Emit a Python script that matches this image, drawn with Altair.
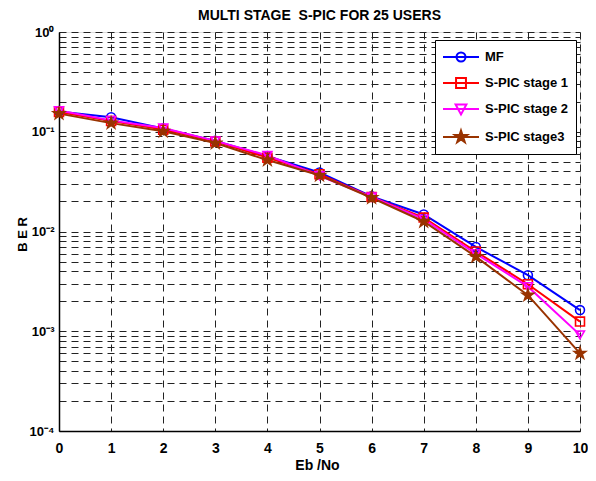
import math
import altair as alt
import pandas as pd

# ---------------- data ----------------
ebno = [0, 1, 2, 3, 4, 5, 6, 7, 8, 9, 10]
series_names = ["MF", "S-PIC stage 1", "S-PIC stage 2", "S-PIC stage3"]
ber_mf = [0.160, 0.140, 0.108, 0.081, 0.057, 0.039, 0.0225, 0.0148, 0.0070, 0.00365, 0.00163]
ber_s1 = [0.158, 0.128, 0.105, 0.080, 0.055, 0.0375, 0.0222, 0.0138, 0.0063, 0.00296, 0.00125]
ber_s2 = [0.163, 0.130, 0.109, 0.081, 0.058, 0.0362, 0.0222, 0.0133, 0.0060, 0.0028, 0.00092]
ber_s3 = [0.152, 0.122, 0.101, 0.077, 0.052, 0.0366, 0.0218, 0.0126, 0.0056, 0.0023, 0.00060]

y_major = [1.0, 0.1, 0.01, 0.001, 0.0001]
y_major_labels = ["10\u2070", "10\u207b\u00b9", "10\u207b\u00b2", "10\u207b\u00b3", "10\u207b\u2074"]
y_grid_values = [k * 10.0 ** e for e in range(-4, 0) for k in range(1, 10)] + [1.0]

colors = ["#0000FF", "#FF0000", "#FF00FF", "#993300"]
fills = ["transparent", "transparent", "transparent", "#993300"]

FONT = "Liberation Sans, Arial, sans-serif"

rows = []
for name, vals in zip(series_names, [ber_mf, ber_s1, ber_s2, ber_s3]):
    for xv, yv in zip(ebno, vals):
        rows.append({"x": xv, "y": yv, "series": name})
df = pd.DataFrame(rows)


# ---------------- marker shapes ----------------
def star_path(r_out, r_in, cx=0.0):
    pts = []
    for k in range(10):
        ang = math.radians(-90 + 36 * k)
        r = r_out if k % 2 == 0 else r_in
        pts.append(f"{cx + r * math.cos(ang):.3f},{r * math.sin(ang):.3f}")
    return "M" + "L".join(pts) + "Z"


data_shapes = ["circle", "square", "triangle-down", star_path(1.35, 0.52)]

# legend symbols: unit = 9 px (symbolSize 324); line spans 36 px, marker in its middle
line_seg = "M-1,0L3,0"
leg_shapes = [
    line_seg + "M1.5,0A0.5,0.5,0,1,1,0.5,0A0.5,0.5,0,1,1,1.5,0Z",
    line_seg + "M0.45,-0.55L1.55,-0.55L1.55,0.55L0.45,0.55Z",
    line_seg + "M0.4,-0.5L1.6,-0.5L1,0.6Z",
    line_seg + star_path(0.72, 0.28, cx=1.0),
]

# ---------------- label expression ----------------
expr = "''"
for v, lab in zip(y_major, y_major_labels):
    expr = f"abs(log(datum.value)/LN10 - ({math.log10(v):.0f})) < 1e-6 ? '{lab}' : ({expr})"

xscale = alt.Scale(domain=[0, 10], nice=False, zero=False)
yscale = alt.Scale(type="log", domain=[1e-4, 1], nice=False)

xaxis = alt.Axis(
    values=ebno, title="Eb /No", grid=True, gridDash=[7, 5], gridColor="#222",
    gridOpacity=1, gridWidth=1, ticks=False, labelPadding=10, labelFontSize=14,
    labelFont=FONT, labelFontWeight="bold", labelColor="black",
    titleFont=FONT, titleFontSize=14, titleFontWeight="bold", titleColor="black",
    titleX=258, titleY=38, titleBaseline="alphabetic", titleAlign="center",
    domainColor="black", domainWidth=1.5, labelFlush=False,
)
yaxis = alt.Axis(
    values=y_grid_values, labelExpr=expr, title="B E R", grid=True, gridDash=[7, 5],
    gridColor="#222", gridOpacity=1, gridWidth=1, ticks=False, labelPadding=5,
    labelFontSize=13, labelFont=FONT, labelFontWeight="bold", labelColor="black",
    labelOverlap=False, titleFont=FONT, titleFontSize=13, titleFontWeight="bold",
    titleColor="black", titleX=-37, titleY=202, titleBaseline="middle",
    titleAlign="center", titleAngle=270, domainColor="black", domainWidth=1.5,
)

base = alt.Chart(df).encode(
    x=alt.X("x:Q", scale=xscale, axis=xaxis),
    y=alt.Y("y:Q", scale=yscale, axis=yaxis),
)

lines = base.mark_line(strokeWidth=2).encode(
    color=alt.Color("series:N", scale=alt.Scale(domain=series_names, range=colors), legend=None)
)

points = base.mark_point(strokeWidth=1.6, size=80, opacity=1).encode(
    stroke=alt.Stroke("series:N", scale=alt.Scale(domain=series_names, range=colors), legend=None),
    fill=alt.Fill("series:N", scale=alt.Scale(domain=series_names, range=fills), legend=None),
    shape=alt.Shape("series:N", scale=alt.Scale(domain=series_names, range=data_shapes), legend=None),
)

leg = alt.Legend(
    orient="none", legendX=376, legendY=8, title=None, strokeColor="black",
    fillColor="white", padding=7, rowPadding=7, labelFont=FONT, labelFontSize=13,
    labelFontWeight="bold", labelColor="black", symbolSize=324, symbolStrokeWidth=2,
    labelOffset=23, labelLimit=300, cornerRadius=0, symbolOpacity=1,
)

legend_layer = base.mark_point(strokeWidth=2, opacity=1).encode(
    stroke=alt.Stroke("series:N", scale=alt.Scale(domain=series_names, range=colors), legend=leg),
    fill=alt.Fill("series:N", scale=alt.Scale(domain=series_names, range=fills), legend=leg),
    shape=alt.Shape("series:N", scale=alt.Scale(domain=series_names, range=leg_shapes), legend=leg),
).transform_filter("datum.x < 0")

chart = (
    alt.layer(lines, points, legend_layer)
    .resolve_scale(color="independent", stroke="independent", fill="independent", shape="independent")
    .properties(
        width=521, height=399,
        title=alt.Title("MULTI STAGE\u00a0 S-PIC FOR 25 USERS", font=FONT, fontSize=14,
                        fontWeight="bold", color="black", offset=3, anchor="middle"),
        autosize=alt.AutoSizeParams(type="none"),
        padding={"left": 51, "top": 24, "right": 8, "bottom": 42},
    )
    .configure_view(stroke="black", strokeWidth=1.5)
    .configure(background="white")
)

chart.save("out.html", embed_options={"renderer": "svg", "actions": False})
